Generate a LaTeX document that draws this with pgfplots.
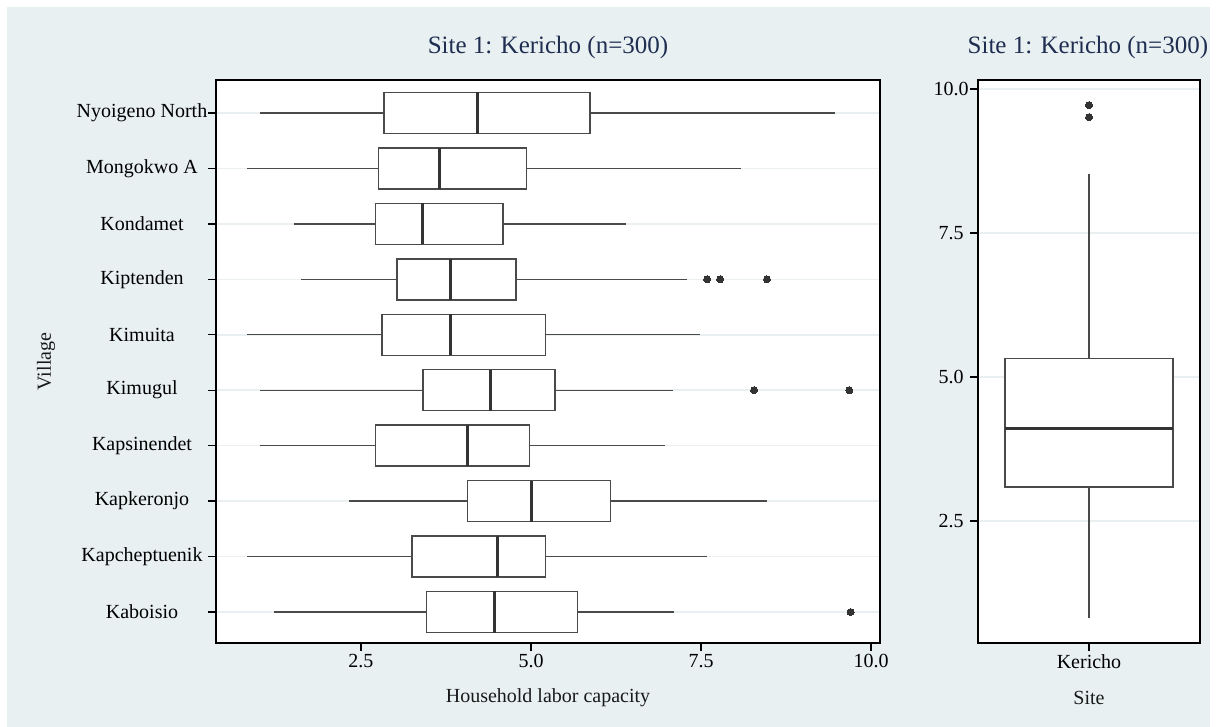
\documentclass[border=0pt]{standalone}
\usepackage{pgfplots}
\pgfplotsset{compat=1.18}
\usepgfplotslibrary{statistics}
\usepackage{fontspec}
\setmainfont{Liberation Serif}
\definecolor{bgc}{HTML}{E8F0F2}
\definecolor{gridc}{HTML}{EAF0F2}
\definecolor{boxc}{HTML}{4A4A4A}
\definecolor{medc}{HTML}{333333}
\definecolor{dotc}{HTML}{333333}
\definecolor{titlec}{HTML}{1F2D50}
\pgfplotsset{
  commonstyle/.style={
    scale only axis,
    anchor=south west,
    axis background/.style={fill=white},
    axis line style={black, line width=1.8bp},
    tick align=outside,
    major tick length=8bp,
    tick style={black, line width=1.3bp},
    xtick pos=bottom, ytick pos=left,
    ymajorgrids,
    major grid style={gridc, line width=1.5bp},
    tick label style={font=\fontsize{20bp}{24bp}\selectfont, text=black},
    /pgf/number format/assume math mode=true,
    /pgf/number format/.cd, fixed, fixed zerofill, precision=1,
    /pgfplots/.cd,
    boxplot/every box/.style={draw=boxc, line width=1.4bp, fill=white},
    boxplot/every whisker/.style={draw=boxc, line width=1.4bp},
    boxplot/every median/.style={draw=medc, line width=3bp},
    boxplot/whisker extend=0,
  },
  bp/.style={boxplot prepared={#1}, draw=boxc, line width=1.4bp, solid, mark=none},
  outl/.style={only marks, mark=*, mark size=3.5bp, mark options={fill=dotc, draw=dotc, line width=0pt}},
}
\begin{document}
\begin{tikzpicture}
\fill[white] (0,0) rectangle (1217bp,727bp);
\fill[bgc] (7bp,0) rectangle (1210bp,720bp);
% Left panel
\begin{axis}[commonstyle,
  at={(216bp,84bp)}, width=664bp, height=563bp,
  xmin=0.368, xmax=10.132, ymin=0.441, ymax=10.595,
  xtick={2.5,5,7.5,10}, ytick={1,2,3,4,5,6,7,8,9,10},
  yticklabels={Kaboisio,Kapcheptuenik,Kapkeronjo,Kapsinendet,Kimugul,Kimuita,Kiptenden,Kondamet,Mongokwo A,Nyoigeno North},
  yticklabel style={anchor=center, xshift=-66bp},
  xlabel={Household labor capacity}, ylabel={Village},
  every axis x label/.style={at={(rel axis cs:0.5,-0.0977)}, anchor=center, font=\fontsize{20bp}{24bp}\selectfont, text=black!90},
  every axis y label/.style={at={(rel axis cs:-0.256,0.5)}, anchor=center, rotate=90, font=\fontsize{20bp}{24bp}\selectfont, text=black!90},
  title={Site 1: Kericho (n=300)},
  every axis title/.style={at={(rel axis cs:0.5,1.058)}, anchor=center, font=\fontsize{25bp}{30bp}\selectfont, text=titlec},
  boxplot/box extend=0.74,
]
\addplot[bp={draw position=10, lower whisker=1.01, lower quartile=2.84, median=4.21, upper quartile=5.87, upper whisker=9.47}] coordinates {};
\addplot[bp={draw position=9, lower whisker=0.82, lower quartile=2.76, median=3.66, upper quartile=4.93, upper whisker=8.09}] coordinates {};
\addplot[bp={draw position=8, lower whisker=1.51, lower quartile=2.71, median=3.41, upper quartile=4.59, upper whisker=6.40}] coordinates {};
\addplot[bp={draw position=7, lower whisker=1.62, lower quartile=3.03, median=3.81, upper quartile=4.78, upper whisker=7.29}] coordinates {};
\addplot[bp={draw position=6, lower whisker=0.82, lower quartile=2.81, median=3.81, upper quartile=5.21, upper whisker=7.49}] coordinates {};
\addplot[bp={draw position=5, lower whisker=1.01, lower quartile=3.41, median=4.41, upper quartile=5.35, upper whisker=7.09}] coordinates {};
\addplot[bp={draw position=4, lower whisker=1.01, lower quartile=2.71, median=4.06, upper quartile=4.98, upper whisker=6.97}] coordinates {};
\addplot[bp={draw position=3, lower whisker=2.32, lower quartile=4.07, median=5.00, upper quartile=6.17, upper whisker=8.47}] coordinates {};
\addplot[bp={draw position=2, lower whisker=0.82, lower quartile=3.25, median=4.50, upper quartile=5.21, upper whisker=7.59}] coordinates {};
\addplot[bp={draw position=1, lower whisker=1.22, lower quartile=3.46, median=4.46, upper quartile=5.68, upper whisker=7.10}] coordinates {};
\addplot[outl] coordinates {(7.59,7) (7.78,7) (8.47,7) (8.28,5) (9.68,5) (9.70,1)};
\end{axis}
% Right panel
\begin{axis}[commonstyle,
  at={(978bp,84bp)}, width=222bp, height=563bp,
  xmin=0, xmax=1, ymin=0.382, ymax=10.156,
  xtick={0.5}, xticklabels={Kericho},
  ytick={2.5,5,7.5,10},
  yticklabel style={anchor=center, xshift=-19bp},
  xlabel={Site},
  every axis x label/.style={at={(rel axis cs:0.5,-0.0977)}, anchor=center, font=\fontsize{20bp}{24bp}\selectfont, text=black!90},
  title={Site 1: Kericho (n=300)},
  every axis title/.style={at={(rel axis cs:0.495,1.058)}, anchor=center, font=\fontsize{25bp}{30bp}\selectfont, text=titlec},
  boxplot/draw direction=y,
  boxplot/box extend=0.757,
]
\addplot[bp={draw position=0.5, lower whisker=0.81, lower quartile=3.09, median=4.10, upper quartile=5.32, upper whisker=8.52}] coordinates {};
\addplot[outl] coordinates {(0.5,9.51) (0.5,9.72)};
\end{axis}
\end{tikzpicture}
\end{document}
